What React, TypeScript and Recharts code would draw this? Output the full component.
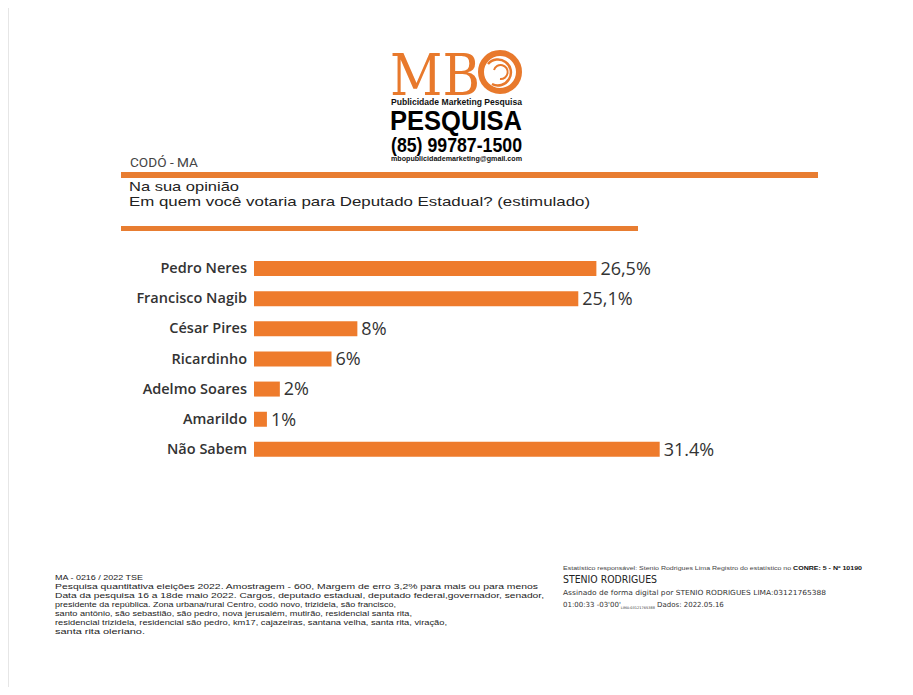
import { BarChart, Bar, XAxis, YAxis, LabelList } from 'recharts'

const candidates = ['Pedro Neres', 'Francisco Nagib', 'César Pires', 'Ricardinho', 'Adelmo Soares', 'Amarildo', 'Não Sabem']
const votes = [26.5, 25.1, 8, 6, 2, 1, 31.4]
const voteLabels = ['26,5%', '25,1%', '8%', '6%', '2%', '1%', '31.4%']

const footerLines = [
  'MA - 0216 / 2022 TSE',
  'Pesquisa quantitativa eleições 2022. Amostragem - 600, Margem de erro 3,2% para mais ou para menos',
  'Data da pesquisa 16 a 18de maio 2022. Cargos, deputado estadual, deputado federal,governador, senador,',
  'presidente da república. Zona urbana/rural Centro, codó novo, trizidela, são francisco,',
  'santo antônio, são sebastião, são pedro, nova jerusalém, mutirão, residencial santa rita,',
  'residencial trizidela, residencial são pedro, km17, cajazeiras, santana velha, santa rita, viração,',
  'santa rita oleriano.',
]
const footerWidths = [88, 483, 489, 341, 357, 392, 90]

const data = candidates.map((name, i) => ({ name, value: votes[i], label: voteLabels[i] }))

const ORANGE = '#ee7b2c'
const TEXT = '#333333'
const FONT = '"Open Sans", sans-serif'

function CategoryTick(props: any) {
  const { x, y, payload } = props
  return (
    <text x={x + 1} y={y} dy={5} textAnchor="end" fill={TEXT} fontFamily={FONT} fontWeight={600} fontSize={14.5}>
      {payload.value}
    </text>
  )
}

function Header() {
  return (
    <svg width={913} height={695} style={{ position: 'absolute', left: 0, top: 0 }}>
      <line x1={8.5} y1={0} x2={8.5} y2={695} stroke="#e6e6e6" />
      <line x1={906.5} y1={0} x2={906.5} y2={695} stroke="#e6e6e6" />

      {/* logo */}
      <text x={390} y={95} fill="#e8792c" fontFamily='"DejaVu Serif", serif' fontSize={58} textLength={90} lengthAdjust="spacingAndGlyphs">MB</text>
      <circle cx={500} cy={72} r={19} fill="none" stroke="#e8792c" strokeWidth={6} />
      <path d="M 488 64 A 13 13 0 1 1 492 84" fill="none" stroke="#e8792c" strokeWidth={2.5} />
      <path d="M 494 70 A 7 7 0 1 1 500 79" fill="none" stroke="#e8792c" strokeWidth={2} />
      <text x={391} y={104.5} fill="#111" fontFamily='"Liberation Sans", Arial, sans-serif' fontWeight={700} fontSize={8.5} textLength={131} lengthAdjust="spacingAndGlyphs">Publicidade Marketing Pesquisa</text>
      <text x={390} y={130} fill="#000" fontFamily='"Liberation Sans", Arial, sans-serif' fontWeight={700} fontSize={27} textLength={132} lengthAdjust="spacingAndGlyphs">PESQUISA</text>
      <text x={391} y={152} fill="#000" fontFamily='"Liberation Sans", Arial, sans-serif' fontWeight={700} fontSize={20} textLength={131} lengthAdjust="spacingAndGlyphs">(85) 99787-1500</text>
      <text x={391} y={161} fill="#111" fontFamily='"Liberation Sans", Arial, sans-serif' fontWeight={700} fontSize={7} textLength={131} lengthAdjust="spacingAndGlyphs">mbopublicidademarketing@gmail.com</text>

      <text x={130} y={167} fill="#444" fontFamily='Roboto, sans-serif' fontSize={12} textLength={68} lengthAdjust="spacingAndGlyphs">CODÓ - MA</text>
      <rect x={121} y={172} width={697} height={6} fill="#e87d31" />
      <text x={129} y={191} fill="#222" fontFamily='"Liberation Sans", sans-serif' fontSize={13} textLength={110} lengthAdjust="spacingAndGlyphs">Na sua opinião</text>
      <text x={129} y={206} fill="#222" fontFamily='"Liberation Sans", sans-serif' fontSize={13} textLength={461} lengthAdjust="spacingAndGlyphs">Em quem você votaria para Deputado Estadual? (estimulado)</text>
      <rect x={121} y={226} width={517} height={5} fill="#e87d31" />

      {/* footer */}
      {footerLines.map((line, i) => (
        <text key={i} x={55} y={580 + i * 9} fill="#222" fontFamily='"Liberation Sans", sans-serif' fontSize={7.8} textLength={footerWidths[i]} lengthAdjust="spacingAndGlyphs">
          {line}
        </text>
      ))}
      <text x={563} y={570} fill="#444" fontFamily='"Liberation Sans", sans-serif' fontSize={5.8} textLength={299} lengthAdjust="spacingAndGlyphs">
        Estatístico responsável: Stenio Rodrigues Lima Registro do estatístico no <tspan fontWeight={700} fill="#111">CONRE: 5 - Nº 10190</tspan>
      </text>
      <text x={563} y={583} fill="#222" fontFamily='"DejaVu Sans", sans-serif' fontSize={10} textLength={94} lengthAdjust="spacingAndGlyphs">STENIO RODRIGUES</text>
      <text x={563} y={595} fill="#333" fontFamily='"DejaVu Sans", sans-serif' fontSize={7} textLength={263} lengthAdjust="spacingAndGlyphs">Assinado de forma digital por STENIO RODRIGUES LIMA:03121765388</text>
      <text x={563} y={607} fill="#333" fontFamily='"DejaVu Sans", sans-serif' fontSize={7}>
        01:00:33 -03'00'<tspan fontSize={3.5} dy={1.5}>LIMA:03121765388</tspan><tspan dy={-1.5}> Dados: 2022.05.16</tspan>
      </text>
    </svg>
  )
}

export default function App() {
  return (
    <div style={{ position: 'relative', width: 913, height: 695, margin: -8, background: '#fff', overflow: 'hidden' }}>
      <Header />
      <div style={{ position: 'absolute', left: 0, top: 253 }}>
        <BarChart width={913} height={211} data={data} layout="vertical" margin={{ top: 0, right: 13, left: 0, bottom: 0 }} barSize={15}>
          <XAxis type="number" hide domain={[0, 50]} />
          <YAxis type="category" dataKey="name" width={254} axisLine={false} tickLine={false} tick={<CategoryTick />} interval={0} />
          <Bar dataKey="value" fill={ORANGE} isAnimationActive={false}>
            <LabelList dataKey="label" position="right" offset={4} fill={TEXT} fontFamily={FONT} fontSize={18} />
          </Bar>
        </BarChart>
      </div>
    </div>
  )
}
